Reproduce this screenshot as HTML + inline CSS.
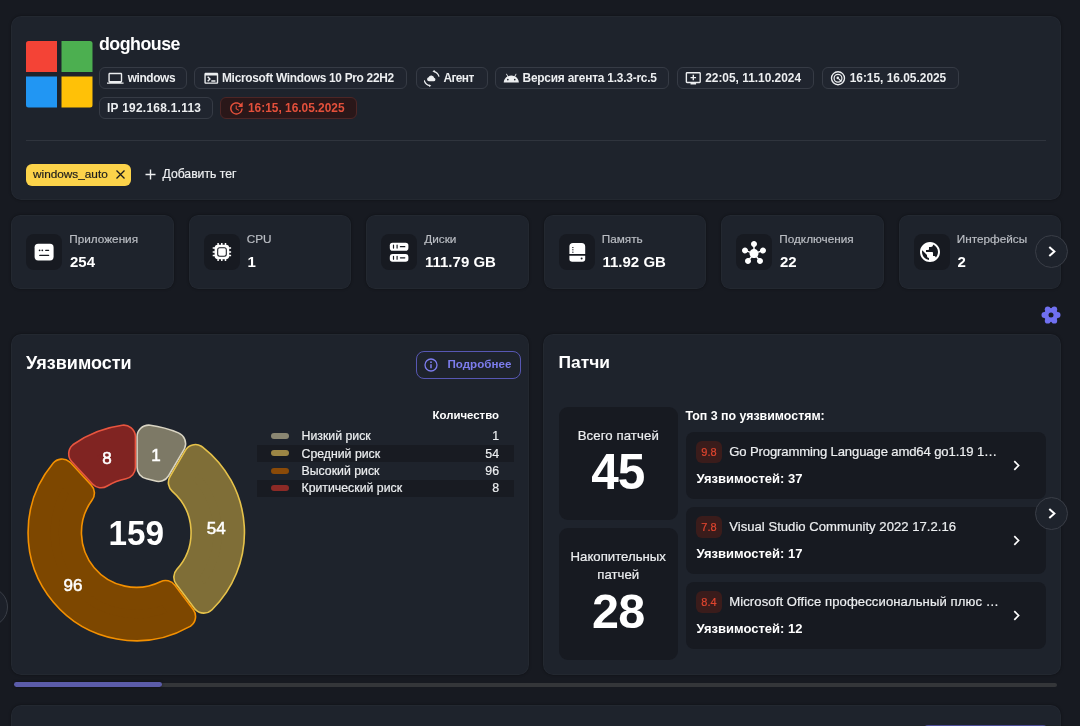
<!DOCTYPE html>
<html lang="ru">
<head>
<meta charset="utf-8">
<title>doghouse</title>
<style>
*{box-sizing:border-box;margin:0;padding:0}
html,body{width:1080px;height:726px;overflow:hidden;background:#171a21}
body{position:relative;font-family:"Liberation Sans",Arial,sans-serif;color:#e8e9eb}
.a{position:absolute;white-space:nowrap;line-height:1}
.card{position:absolute;background:#1e232c;border-radius:10px;box-shadow:0 0 2.5px rgba(0,0,0,.45),inset 0 0 0 1px rgba(255,255,255,.025)}
.chip{position:absolute;height:22px;border:1px solid #363b45;border-radius:6px;background:#20252f}
.chip svg{position:absolute;top:2px}
.chip span{position:absolute;top:0;font-weight:700;font-size:11.9px;line-height:20px;color:#eceef0}
.b{font-weight:700}
.a,.lb{-webkit-text-stroke:0.2px currentColor}
.b,.vl,svg text{-webkit-text-stroke:0}
.stat{position:absolute;top:215px;width:162.5px;height:74px;background:#1e232c;border-radius:9px;box-shadow:0 0 2.5px rgba(0,0,0,.45),inset 0 0 0 1px rgba(255,255,255,.025)}
.stat .ic{position:absolute;left:15px;top:19px;width:36px;height:36px;border-radius:8px;background:#171a21}
.stat .ic svg{position:absolute;left:8px;top:8px}
.stat .lb{position:absolute;left:58.3px;top:18px;font-size:11.75px;color:#babdc3;line-height:1}
.stat .vl{position:absolute;left:59px;top:39px;font-size:15px;font-weight:700;color:#fff;line-height:1}
.circ{position:absolute;width:33px;height:33px;border-radius:50%;border:1px solid #3a3e47;background:#1e232c}
.circ svg{position:absolute;left:0;top:0}
.dark{position:absolute;background:#171a21;border-radius:9px}
</style>
</head>
<body>
<!-- top card -->
<div class="card" style="left:11px;top:16px;width:1050px;height:184px"></div>
<svg class="a" style="left:26px;top:41.3px" width="67" height="67" viewBox="0 0 67 67">
<path d="M2.5 0H31V31H0V2.5A2.5 2.5 0 0 1 2.5 0Z" fill="#f44336"/>
<path d="M35.5 0H64A2.5 2.5 0 0 1 66.5 2.5V31H35.5Z" fill="#4caf50"/>
<path d="M0 35.5H31V66.5H2.5A2.5 2.5 0 0 1 0 64Z" fill="#2196f3"/>
<path d="M35.5 35.5H66.5V64A2.5 2.5 0 0 1 64 66.5H35.5Z" fill="#ffc107"/>
</svg>
<div class="a b" style="left:99px;top:35.7px;font-size:17.8px;letter-spacing:-0.5px;color:#fff">doghouse</div>

<!-- chips row 1 -->
<div class="chip" style="left:99px;top:67px;width:88px">
 <svg style="left:7.2px;top:2.1px" width="17" height="15" viewBox="0 0 24.6 21.7"><path fill="#eceef0" d="M20 18c1.1 0 1.99-.9 1.99-2L22 6c0-1.1-.9-2-2-2H4c-1.1 0-2 .9-2 2v10c0 1.1.9 2 2 2H0v2h24v-2h-4zM4 6h16v10H4V6z"/></svg>
 <span style="letter-spacing:-0.4px;left:27.7px">windows</span></div>
<div class="chip" style="left:194px;top:67px;width:213px">
 <svg style="left:7.5px;top:2.24px" width="17" height="17" viewBox="0 0 24.6 24.6"><path fill="#eceef0" d="M20 4H4c-1.11 0-2 .9-2 2v12c0 1.1.89 2 2 2h16c1.1 0 2-.9 2-2V6c0-1.1-.89-2-2-2zm0 14H4V8h16v10zm-2-1h-6v-2h6v2zM7.5 17l-1.41-1.41L8.67 13l-2.59-2.59L7.5 9l4 4-4 4z"/></svg>
 <span style="letter-spacing:-0.29px;left:27px">Microsoft Windows 10 Pro 22H2</span></div>
<div class="chip" style="left:415.5px;top:67px;width:72px">
 <svg style="left:7.5px;top:2px" width="16" height="17" viewBox="0 0 16 17"><path fill="#eceef0" d="M5 11.3h4.7a1.75 1.75 0 0 0 .4-3.45 2.85 2.85 0 0 0-5.5-.5 2 2 0 0 0 .4 3.95z"/><path d="M9.6 1.3a7.3 7.3 0 0 1 5.4 5.3M6 15.6a7.4 7.4 0 0 1-5.8-5.3" fill="none" stroke="#eceef0" stroke-width="1.3"/><path d="M8.4 1.2l2.3-1.2v2.6z M7.3 15.8l-2.2 1.2v-2.6z" fill="#eceef0"/></svg>
 <span style="letter-spacing:-0.6px;left:27px">Агент</span></div>
<div class="chip" style="left:494.5px;top:67px;width:174.5px">
 <svg style="left:7.4px;top:2.4px" width="17" height="17" viewBox="0 0 24.6 24.6"><path fill="#eceef0" d="M17.6 9.48l1.84-3.18c.16-.31.04-.69-.26-.85-.29-.15-.65-.06-.83.22l-1.88 3.24c-2.86-1.21-6.08-1.21-8.94 0L5.65 5.67c-.19-.29-.58-.38-.87-.2-.28.18-.37.54-.22.83L6.4 9.48C3.3 11.25 1.28 14.44 1 18h22c-.28-3.56-2.3-6.75-5.4-8.52zM7 15.25c-.69 0-1.25-.56-1.25-1.25s.56-1.25 1.25-1.25 1.25.56 1.25 1.25-.56 1.25-1.25 1.25zm10 0c-.69 0-1.25-.56-1.25-1.25s.56-1.25 1.25-1.25 1.25.56 1.25 1.25-.56 1.25-1.25 1.25z"/></svg>
 <span style="letter-spacing:-0.21px;left:27px">Версия агента 1.3.3-rc.5</span></div>
<div class="chip" style="left:677px;top:67px;width:137px">
 <svg style="left:7.2px;top:1.8px" width="17" height="17" viewBox="0 0 24.6 24.6"><path fill="#eceef0" d="M21 3H3c-1.11 0-2 .89-2 2v12c0 1.1.89 2 2 2h5v2h8v-2h5c1.1 0 1.99-.9 1.99-2L23 5c0-1.11-.9-2-2-2zm0 14H3V5h18v12zM16 10v2h-3v3h-2v-3H8v-2h3V7h2v3h3z"/></svg>
 <span style="left:27.2px">22:05, 11.10.2024</span></div>
<div class="chip" style="left:821.5px;top:67px;width:137.5px">
 <svg style="left:7.5px;top:2px" width="16" height="16" viewBox="0 0 16 16"><circle cx="8" cy="8.2" r="6.5" fill="none" stroke="#eceef0" stroke-width="1.35"/><circle cx="8" cy="8.2" r="3.9" fill="none" stroke="#eceef0" stroke-width="1.25"/><circle cx="7.8" cy="7.9" r="1.3" fill="#eceef0"/><path d="M8.8 8.9l2.6 2.6" stroke="#eceef0" stroke-width="1.25"/></svg>
 <span style="left:27.2px">16:15, 16.05.2025</span></div>
<!-- chips row 2 -->
<div class="chip" style="left:99px;top:97px;width:113.5px">
 <span style="letter-spacing:0.28px;left:7px">IP 192.168.1.113</span></div>
<div class="chip" style="left:220px;top:97px;width:137px;background:#2a1719;border:1px solid #4d2626">
 <svg style="left:7.1px;top:1.5px" width="17" height="17" viewBox="0 0 24.3 24.3"><path fill="#e4503b" d="M21 10.12h-6.78l2.74-2.82c-2.73-2.7-7.15-2.8-9.88-.1-2.73 2.71-2.73 7.08 0 9.79s7.15 2.71 9.88 0C18.32 15.65 19 14.08 19 12.1h2c0 1.98-.88 4.55-2.64 6.29-3.51 3.48-9.21 3.48-12.72 0-3.5-3.47-3.53-9.11-.02-12.58s9.14-3.47 12.65 0L21 3v7.12zM12.5 8v4.25l3.5 2.08-.72 1.21L11 13V8h1.5z"/></svg>
 <span style="left:27px;color:#e4503b">16:15, 16.05.2025</span></div>

<!-- divider -->
<div class="a" style="left:26px;top:140px;width:1020px;height:1.3px;background:#2f343d"></div>
<!-- tag -->
<div class="a" style="left:26px;top:164px;width:105px;height:22px;border-radius:6px;background:#fcd34a"></div>
<div class="a" style="left:33px;top:168.5px;font-size:11.8px;color:#1d1d1d">windows_auto</div>
<svg class="a" style="left:115px;top:169px" width="11" height="11" viewBox="0 0 11 11"><path d="M1.5 1.5l8 8M9.5 1.5l-8 8" stroke="#1d1d1d" stroke-width="1.3"/></svg>
<svg class="a" style="left:145px;top:169px" width="11" height="11" viewBox="0 0 11 11"><path d="M5.5 0.5v10M0.5 5.5h10" stroke="#eceef0" stroke-width="1.4"/></svg>
<div class="a" style="left:162.5px;top:168.2px;font-size:12.2px;color:#eceef0">Добавить тег</div>

<!-- stats -->
<div class="stat" style="left:11px"><div class="ic"><svg width="20" height="20" viewBox="0 0 20 20"><rect x="0.6" y="1.8" width="19" height="16.6" rx="3.6" fill="#fff"/><circle cx="5.6" cy="8.3" r=".9" fill="#171a21"/><circle cx="8.3" cy="8.3" r=".9" fill="#171a21"/><path d="M11.7 8.3h2.9M5.8 13.4h8.8" stroke="#171a21" stroke-width="1.3" stroke-linecap="round"/></svg></div><div class="lb">Приложения</div><div class="vl">254</div></div>
<div class="stat" style="left:188.5px"><div class="ic"><svg width="20" height="20" viewBox="0 0 20 20"><rect x="2.6" y="2.7" width="14.6" height="14.5" rx="3.4" fill="#fff"/><path d="M6.1 .9v2.5M9.8 .9v2.5M13.5 .9v2.5M6.1 16.6v2.5M9.8 16.6v2.5M13.5 16.6v2.5M.7 6.1h2.5M.7 9.9h2.5M.7 13.6h2.5M16.6 6.1h2.5M16.6 9.9h2.5M16.6 13.6h2.5" stroke="#fff" stroke-width="1.5"/><rect x="5.7" y="5.8" width="8.6" height="8.5" rx="2" fill="#fff" stroke="#171a21" stroke-width="1.05"/></svg></div><div class="lb">CPU</div><div class="vl">1</div></div>
<div class="stat" style="left:366px"><div class="ic"><svg width="20" height="20" viewBox="0 0 20 20"><rect x="0.8" y="0.8" width="18.6" height="7.9" rx="2.8" fill="#fff"/><rect x="0.8" y="11.9" width="18.6" height="7.9" rx="2.8" fill="#fff"/><path d="M4.5 3.2v2.9M8.1 3.2v2.9M4.5 14.3v2.9M8.1 14.3v2.9M11.4 4.7h4.4M11.4 15.8h4.4" stroke="#171a21" stroke-width="1.2" stroke-linecap="round"/></svg></div><div class="lb">Диски</div><div class="vl">111.79 GB</div></div>
<div class="stat" style="left:543.5px"><div class="ic"><svg width="20" height="20" viewBox="0 0 20 20"><path d="M6 1h8.6a3.6 3.6 0 0 1 3.6 3.6V12H2.4V4.6A3.6 3.6 0 0 1 6 1z" fill="#fff"/><path d="M2.4 13.8H18.2V17a2.8 2.8 0 0 1-2.8 2.8H5.2A2.8 2.8 0 0 1 2.4 17z" fill="#fff"/><path d="M5.2 5.6h1.3M5.2 7.8h1.3M5.2 10.2h1.3" stroke="#171a21" stroke-width="1"/><circle cx="14.6" cy="16.5" r="1" fill="#171a21"/></svg></div><div class="lb">Память</div><div class="vl">11.92 GB</div></div>
<div class="stat" style="left:721px"><div class="ic"><svg style="left:5.5px;top:6.7px" width="24" height="24" viewBox="0 0 24 24"><path fill="#fff" d="M8.4 18.2c.38.5.6 1.12.6 1.8 0 1.66-1.34 3-3 3s-3-1.34-3-3 1.34-3 3-3c.44 0 .85.09 1.23.26l1.41-1.77c-.92-1.03-1.29-2.39-1.09-3.69l-2.03-.68c-.54.83-1.46 1.38-2.52 1.38-1.66 0-3-1.34-3-3s1.34-3 3-3 3 1.34 3 3c0 .07 0 .14-.01.21l2.03.68c.64-1.21 1.82-2.09 3.22-2.32V5.91C9.96 5.57 9 4.4 9 3c0-1.66 1.34-3 3-3s3 1.34 3 3c0 1.4-.96 2.57-2.25 2.91v2.16c1.4.23 2.58 1.11 3.22 2.32l2.03-.68c-.01-.07-.01-.14-.01-.21 0-1.66 1.34-3 3-3s3 1.34 3 3-1.34 3-3 3c-1.06 0-1.98-.55-2.52-1.37l-2.03.68c.2 1.29-.16 2.65-1.09 3.69l1.41 1.77c.38-.17.79-.26 1.23-.26 1.66 0 3 1.34 3 3s-1.34 3-3 3-3-1.34-3-3c0-.68.22-1.3.6-1.8l-1.41-1.77c-1.35.75-3.01.76-4.37 0L8.4 18.2z"/></svg></div><div class="lb">Подключения</div><div class="vl">22</div></div>
<div class="stat" style="left:898.5px"><div class="ic"><svg style="left:4.4px;top:6.3px" width="24" height="24" viewBox="0 0 24 24"><path fill="#fff" d="M12 2C6.48 2 2 6.48 2 12s4.48 10 10 10 10-4.48 10-10S17.52 2 12 2zm-1 17.93c-3.95-.49-7-3.85-7-7.93 0-.62.08-1.21.21-1.79L9 15v1c0 1.1.9 2 2 2v1.93zm6.9-2.54c-.26-.81-1-1.39-1.9-1.39h-1v-3c0-.55-.45-1-1-1H8v-2h2c.55 0 1-.45 1-1V7h2c1.1 0 2-.9 2-2v-.41c2.93 1.19 5 4.06 5 7.41 0 2.08-.8 3.97-2.1 5.39z"/></svg></div><div class="lb">Интерфейсы</div><div class="vl">2</div></div>
<div class="circ" style="left:1035px;top:235.2px"><svg width="31" height="31" viewBox="0 0 31 31"><path d="M13.3 10.9L18.4 15.5L13.3 20.1" fill="none" stroke="#fff" stroke-width="2"/></svg></div>
<!-- gear -->
<svg class="a" style="left:1041px;top:305px" width="20" height="20" viewBox="0 0 20 20"><g fill="#7070f0"><circle cx="10" cy="10" r="7.1"/><circle cx="16.60" cy="10.00" r="2.9"/><circle cx="13.30" cy="15.72" r="2.9"/><circle cx="6.70" cy="15.72" r="2.9"/><circle cx="3.40" cy="10.00" r="2.9"/><circle cx="6.70" cy="4.28" r="2.9"/><circle cx="13.30" cy="4.28" r="2.9"/></g><circle cx="10" cy="10" r="2.5" fill="#171a21"/></svg>

<!-- PANELS_START -->
<div class="card" style="left:11px;top:333.5px;width:517.5px;height:341.5px"></div>
<div class="card" style="left:543px;top:333.5px;width:518px;height:341.5px"></div>
<div class="a b" style="left:26px;top:354.16px;font-size:18px;color:#fff">Уязвимости</div>
<div class="a" style="left:416px;top:351px;width:105px;height:28px;border:1.5px solid #5757b3;border-radius:8px"></div>
<svg class="a" style="left:424px;top:358px" width="14" height="14" viewBox="0 0 14 14"><circle cx="7" cy="7" r="6" fill="none" stroke="#7d7dee" stroke-width="1.3"/><path d="M7 6.2v4" stroke="#7d7dee" stroke-width="1.5"/><circle cx="7" cy="4.2" r=".9" fill="#7d7dee"/></svg>
<div class="a b" style="left:447.5px;top:357.98px;font-size:11.6px;color:#7d7dee">Подробнее</div>
<div class="a b" style="left:399px;width:100px;text-align:right;top:409.75px;font-size:11.4px;color:#fff">Количество</div>
<div class="a" style="left:256.5px;top:444.8px;width:257.5px;height:17.4px;background:#181b22"></div>
<div class="a" style="left:256.5px;top:479.7px;width:257.5px;height:17.5px;background:#181b22"></div>
<div class="a" style="left:271px;top:433.0px;width:18px;height:6px;border-radius:3px;background:#8a8672"></div>
<div class="a" style="left:301.5px;top:430.39px;font-size:12.3px;color:#eceef0">Низкий риск</div>
<div class="a" style="left:449px;width:50px;text-align:right;top:430.39px;font-size:12.3px;color:#eceef0">1</div>
<div class="a" style="left:271px;top:450.2px;width:18px;height:6px;border-radius:3px;background:#9c8645"></div>
<div class="a" style="left:301.5px;top:447.59px;font-size:12.3px;color:#eceef0">Средний риск</div>
<div class="a" style="left:449px;width:50px;text-align:right;top:447.59px;font-size:12.3px;color:#eceef0">54</div>
<div class="a" style="left:271px;top:467.7px;width:18px;height:6px;border-radius:3px;background:#8a4a08"></div>
<div class="a" style="left:301.5px;top:465.09px;font-size:12.3px;color:#eceef0">Высокий риск</div>
<div class="a" style="left:449px;width:50px;text-align:right;top:465.09px;font-size:12.3px;color:#eceef0">96</div>
<div class="a" style="left:271px;top:485.0px;width:18px;height:6px;border-radius:3px;background:#8c2a26"></div>
<div class="a" style="left:301.5px;top:482.39px;font-size:12.3px;color:#eceef0">Критический риск</div>
<div class="a" style="left:449px;width:50px;text-align:right;top:482.39px;font-size:12.3px;color:#eceef0">8</div>
<svg class="a" style="left:0;top:0" width="1080" height="726" viewBox="0 0 1080 726">
<path d="M148.75,436.81A96.50,96.50 0 0 1 173.89,443.64L158.52,469.84A66.50,66.50 0 0 0 148.75,467.19Z" fill="#d9d4c3" stroke="#d9d4c3" stroke-width="25.0" stroke-linejoin="round"/>
<path d="M148.75,436.81A96.50,96.50 0 0 1 173.89,443.64L158.52,469.84A66.50,66.50 0 0 0 148.75,467.19Z" fill="#7d7966" stroke="#7d7966" stroke-width="21.8" stroke-linejoin="round"/>
<path d="M195.45,456.29A96.50,96.50 0 0 1 203.82,601.40L185.54,577.14A66.50,66.50 0 0 0 180.08,482.49Z" fill="#e6c24a" stroke="#e6c24a" stroke-width="25.0" stroke-linejoin="round"/>
<path d="M195.45,456.29A96.50,96.50 0 0 1 203.82,601.40L185.54,577.14A66.50,66.50 0 0 0 180.08,482.49Z" fill="#7f6e37" stroke="#7f6e37" stroke-width="21.8" stroke-linejoin="round"/>
<path d="M183.85,616.44A96.50,96.50 0 0 1 62.06,470.78L82.70,493.07A66.50,66.50 0 0 0 165.57,592.19Z" fill="#f39000" stroke="#f39000" stroke-width="25.0" stroke-linejoin="round"/>
<path d="M183.85,616.44A96.50,96.50 0 0 1 62.06,470.78L82.70,493.07A66.50,66.50 0 0 0 165.57,592.19Z" fill="#7d4700" stroke="#7d4700" stroke-width="21.8" stroke-linejoin="round"/>
<path d="M80.41,453.80A96.50,96.50 0 0 1 123.75,436.81L123.75,467.19A66.50,66.50 0 0 0 101.04,476.08Z" fill="#e8553f" stroke="#e8553f" stroke-width="25.0" stroke-linejoin="round"/>
<path d="M80.41,453.80A96.50,96.50 0 0 1 123.75,436.81L123.75,467.19A66.50,66.50 0 0 0 101.04,476.08Z" fill="#802422" stroke="#802422" stroke-width="21.8" stroke-linejoin="round"/>

<text x="106.9" y="463.6" text-anchor="middle" font-family="Liberation Sans, Arial, sans-serif" font-size="17" font-weight="400" stroke="#fff" stroke-width="0.55" fill="#fff">8</text>
<text x="156" y="460.90000000000003" text-anchor="middle" font-family="Liberation Sans, Arial, sans-serif" font-size="17" font-weight="400" stroke="#fff" stroke-width="0.55" fill="#fff">1</text>
<text x="216.3" y="534.4" text-anchor="middle" font-family="Liberation Sans, Arial, sans-serif" font-size="17" font-weight="400" stroke="#fff" stroke-width="0.55" fill="#fff">54</text>
<text x="73" y="590.5" text-anchor="middle" font-family="Liberation Sans, Arial, sans-serif" font-size="17" font-weight="400" stroke="#fff" stroke-width="0.55" fill="#fff">96</text>
<text transform="translate(136.3,544.8) scale(0.93,1)" x="0" y="0" text-anchor="middle" font-family="Liberation Sans, Arial, sans-serif" font-size="35.8" font-weight="700" fill="#fff">159</text>
</svg>
<div class="a b" style="left:558.5px;top:353.87px;font-size:17.4px;color:#fff">Патчи</div>
<div class="dark" style="left:558.5px;top:407px;width:119.5px;height:113px"></div>
<div class="dark" style="left:558.5px;top:528px;width:119.5px;height:132px"></div>
<div class="a" style="left:558.5px;width:119.5px;text-align:center;top:428.93px;font-size:13.2px;letter-spacing:0.1px;color:#eceef0">Всего патчей</div>
<div class="a b" style="left:558.5px;width:119.5px;text-align:center;top:447.3px;font-size:49.5px;letter-spacing:-1.2px;text-indent:-1.2px;color:#fff">45</div>
<div class="a" style="left:558.5px;width:119.5px;text-align:center;top:549.63px;font-size:13.2px;color:#eceef0">Накопительных</div>
<div class="a" style="left:558.5px;width:119.5px;text-align:center;top:567.93px;font-size:13.2px;color:#eceef0">патчей</div>
<div class="a b" style="left:558.5px;width:119.5px;text-align:center;top:587.24px;font-size:48.5px;letter-spacing:-0.6px;color:#fff">28</div>
<div class="a b" style="left:685.4px;top:410.4px;font-size:12.4px;color:#fff">Топ 3 по уязвимостям:</div>
<div class="dark" style="left:685.5px;top:432px;width:360.5px;height:66.5px;border-radius:8px"></div>
<div class="a" style="left:696px;top:441px;width:26px;height:22px;border-radius:6px;background:#3a1c1b"></div>
<div class="a" style="left:696px;width:26px;text-align:center;top:446.69px;font-size:11px;color:#e0452f">9.8</div>
<div class="a" style="left:729.2px;top:445.31px;font-size:13.1px;letter-spacing:-0.13px;color:#eceef0">Go Programming Language amd64 go1.19 1…</div>
<div class="a b" style="left:696.5px;top:472.3px;font-size:13px;color:#fff">Уязвимостей: 37</div>
<svg class="a" style="left:1011px;top:460px" width="11" height="11" viewBox="0 0 11 11"><path d="M3.3 1.2L7.6 5.5L3.3 9.8" fill="none" stroke="#fff" stroke-width="1.7"/></svg>
<div class="dark" style="left:685.5px;top:507px;width:360.5px;height:66.5px;border-radius:8px"></div>
<div class="a" style="left:696px;top:516px;width:26px;height:22px;border-radius:6px;background:#3a1c1b"></div>
<div class="a" style="left:696px;width:26px;text-align:center;top:521.69px;font-size:11px;color:#e0452f">7.8</div>
<div class="a" style="left:729.2px;top:520.31px;font-size:13.1px;letter-spacing:0.02px;color:#eceef0">Visual Studio Community 2022 17.2.16</div>
<div class="a b" style="left:696.5px;top:547.3px;font-size:13px;color:#fff">Уязвимостей: 17</div>
<svg class="a" style="left:1011px;top:535px" width="11" height="11" viewBox="0 0 11 11"><path d="M3.3 1.2L7.6 5.5L3.3 9.8" fill="none" stroke="#fff" stroke-width="1.7"/></svg>
<div class="dark" style="left:685.5px;top:582px;width:360.5px;height:66.5px;border-radius:8px"></div>
<div class="a" style="left:696px;top:591px;width:26px;height:22px;border-radius:6px;background:#3a1c1b"></div>
<div class="a" style="left:696px;width:26px;text-align:center;top:596.69px;font-size:11px;color:#e0452f">8.4</div>
<div class="a" style="left:729.2px;top:595.31px;font-size:13.1px;letter-spacing:0.09px;color:#eceef0">Microsoft Office профессиональный плюс …</div>
<div class="a b" style="left:696.5px;top:622.3px;font-size:13px;color:#fff">Уязвимостей: 12</div>
<svg class="a" style="left:1011px;top:610px" width="11" height="11" viewBox="0 0 11 11"><path d="M3.3 1.2L7.6 5.5L3.3 9.8" fill="none" stroke="#fff" stroke-width="1.7"/></svg>
<div class="circ" style="left:1035px;top:497px"><svg width="31" height="31" viewBox="0 0 31 31"><path d="M13.3 10.9L18.4 15.5L13.3 20.1" fill="none" stroke="#fff" stroke-width="2"/></svg></div>
<div class="circ" style="left:-33px;top:586.6px;width:40.8px;height:40.8px;background:#1c2029"></div>
<div class="a" style="left:160px;top:683px;width:897px;height:4px;border-radius:2px;background:#343639"></div>
<div class="a" style="left:14px;top:682.4px;width:148px;height:4.8px;border-radius:2.4px;background:#5b5ca9;box-shadow:0 0 3px rgba(0,0,0,.5)"></div>
<div class="card" style="left:11px;top:704.5px;width:1049.5px;height:60px"></div>
<div class="a" style="left:922.5px;top:724.8px;width:125.5px;height:10px;border-radius:6px;background:#4b4b95"></div>
<!-- PANELS_END -->

</body>
</html>
